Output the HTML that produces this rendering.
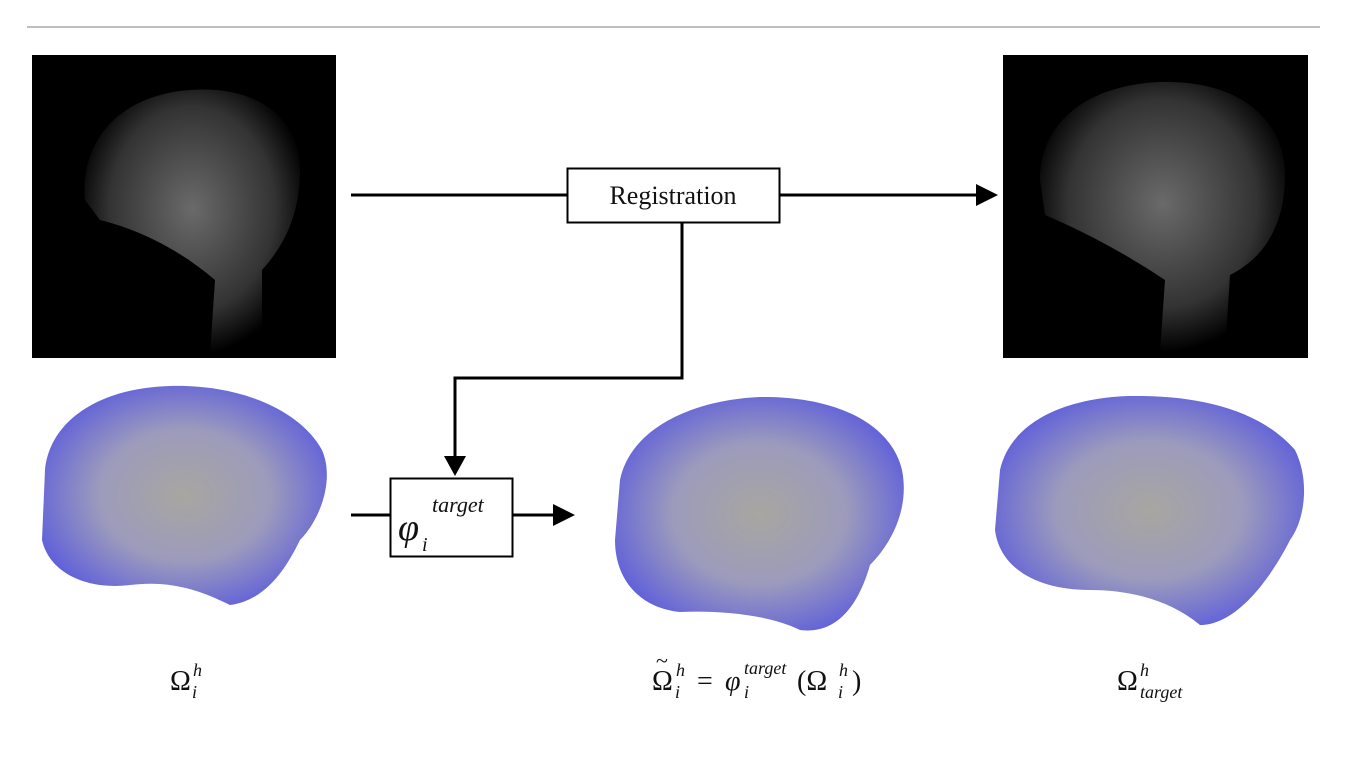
<!DOCTYPE html>
<html><head><style>
body{margin:0;background:#fff;width:1364px;height:770px;overflow:hidden}
svg{display:block}
text{font-family:"Liberation Serif",serif;fill:#111}
</style></head><body>
<svg width="1364" height="770" viewBox="0 0 1364 770">
<defs>
<radialGradient id="br" cx="50%" cy="50%" r="60%">
<stop offset="0" stop-color="#a8a6a0"/><stop offset="0.5" stop-color="#9c9bbc"/><stop offset="1" stop-color="#5555e0"/>
</radialGradient>
<radialGradient id="sk" cx="50%" cy="45%" r="55%">
<stop offset="0" stop-color="#6a6a6a"/><stop offset="0.7" stop-color="#333"/><stop offset="1" stop-color="#000"/>
</radialGradient>
</defs>
<line x1="27" y1="27" x2="1320" y2="27" stroke="#aaa" stroke-width="1.5"/>
<rect x="32" y="55" width="304" height="303" fill="#000"/>
<path d="M85 200 C80 140 120 95 190 90 C260 85 300 120 300 170 C300 220 280 250 262 270 L262 355 L210 355 L215 280 C180 250 140 230 100 220 Z" fill="url(#sk)"/>
<rect x="1003" y="55" width="305" height="303" fill="#000"/>
<path d="M1040 180 C1040 120 1090 85 1160 82 C1240 80 1285 120 1285 175 C1285 230 1260 260 1230 275 L1225 352 L1160 352 L1165 280 C1120 250 1080 230 1045 215 Z" fill="url(#sk)"/>
<g stroke="#000" stroke-width="3" fill="none">
<line x1="351" y1="195" x2="567" y2="195"/>
<line x1="780" y1="195" x2="978" y2="195"/>
<polyline points="682,222 682,378 455,378 455,458"/>
<line x1="351" y1="515" x2="390" y2="515"/>
<line x1="513" y1="515" x2="555" y2="515"/>
</g>
<polygon points="976,184 998,195 976,206" fill="#000"/>
<polygon points="444,456 455,476 466,456" fill="#000"/>
<polygon points="553,504 575,515 553,526" fill="#000"/>
<rect x="567.5" y="168.5" width="212" height="54" fill="#fff" stroke="#000" stroke-width="2"/>
<text x="673" y="204" font-size="26" text-anchor="middle">Registration</text>
<rect x="390.5" y="478.5" width="122" height="78" fill="#fff" stroke="#000" stroke-width="2"/>
<text x="398" y="540" font-size="38" font-style="italic">φ</text>
<text x="422" y="551" font-size="20" font-style="italic">i</text>
<text x="432" y="512" font-size="22" font-style="italic">target</text>
<path d="M45 470 C50 420 100 388 170 386 C240 384 300 410 322 450 C335 480 320 520 300 540 C290 560 270 600 230 605 C200 590 170 580 130 585 C90 590 50 575 42 540 Z" fill="url(#br)"/>
<path d="M620 480 C630 430 690 400 760 397 C830 396 890 420 902 470 C910 510 890 545 870 565 C860 600 840 635 800 630 C770 615 720 610 680 612 C640 608 615 580 615 540 Z" fill="url(#br)"/>
<path d="M1000 470 C1010 425 1060 398 1130 396 C1200 395 1260 410 1295 450 C1310 480 1305 520 1290 540 C1275 570 1240 625 1200 625 C1170 600 1130 590 1090 590 C1040 590 1000 570 995 530 Z" fill="url(#br)"/>
<text x="170" y="690" font-size="28">Ω</text>
<text x="193" y="676" font-size="18" font-style="italic">h</text>
<text x="192" y="698" font-size="18" font-style="italic">i</text>
<text x="652" y="690" font-size="28">Ω</text>
<text x="656" y="668" font-size="22">~</text>
<text x="676" y="676" font-size="18" font-style="italic">h</text>
<text x="675" y="698" font-size="18" font-style="italic">i</text>
<text x="697" y="690" font-size="28">=</text>
<text x="725" y="690" font-size="28" font-style="italic">φ</text>
<text x="744" y="698" font-size="18" font-style="italic">i</text>
<text x="744" y="674" font-size="18" font-style="italic">target</text>
<text x="797" y="690" font-size="28">(Ω</text>
<text x="839" y="676" font-size="18" font-style="italic">h</text>
<text x="838" y="698" font-size="18" font-style="italic">i</text>
<text x="852" y="690" font-size="28">)</text>
<text x="1117" y="690" font-size="28">Ω</text>
<text x="1140" y="676" font-size="18" font-style="italic">h</text>
<text x="1140" y="698" font-size="18" font-style="italic">target</text>
</svg>
</body></html>
